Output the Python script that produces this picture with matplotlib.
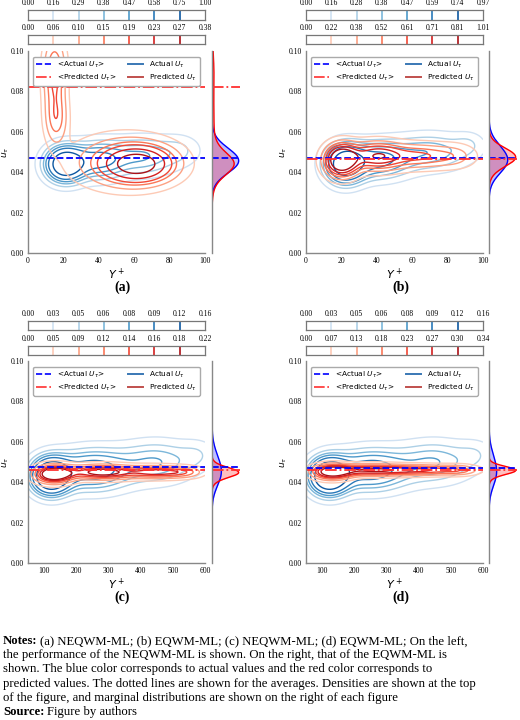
import numpy as np
import matplotlib
matplotlib.use("Agg")
import matplotlib.pyplot as plt
from matplotlib.lines import Line2D

W, H = 520, 720
fig = plt.figure(figsize=(5.2, 7.2), dpi=100)

def ax_px(x0, y0, x1, y1):
    return fig.add_axes([x0 / W, 1 - y1 / H, (x1 - x0) / W, (y1 - y0) / H])

# ---- data ----
panel_names = ["(a)", "(b)", "(c)", "(d)"]
blue_levels = [
    [0.00, 0.16, 0.29, 0.38, 0.47, 0.58, 0.75, 1.00],
    [0.00, 0.16, 0.28, 0.38, 0.47, 0.59, 0.74, 0.97],
    [0.00, 0.03, 0.05, 0.06, 0.08, 0.09, 0.12, 0.16],
    [0.00, 0.03, 0.05, 0.06, 0.08, 0.09, 0.12, 0.16],
]
red_levels = [
    [0.00, 0.06, 0.10, 0.15, 0.19, 0.23, 0.27, 0.38],
    [0.00, 0.22, 0.38, 0.52, 0.61, 0.71, 0.81, 1.01],
    [0.00, 0.05, 0.09, 0.12, 0.14, 0.16, 0.18, 0.22],
    [0.00, 0.07, 0.13, 0.18, 0.23, 0.27, 0.30, 0.34],
]
mass_fractions = [0.95, 0.85, 0.72, 0.58, 0.42, 0.22]
x_ranges = [(0, 100), (0, 100), (50, 600), (50, 600)]
x_ticks = [[0, 20, 40, 60, 80, 100], [0, 20, 40, 60, 80, 100],
           [100, 200, 300, 400, 500, 600], [100, 200, 300, 400, 500, 600]]
y_ticks = [0.00, 0.02, 0.04, 0.06, 0.08, 0.10]
mean_actual = [0.047, 0.047, 0.0475, 0.047]
mean_predicted = [0.082, 0.0465, 0.046, 0.046]

# density components: (center Y+, center u_tau, spread Y+, spread u_tau, weight)
actual_components = [
    [(21, 0.044, 7, 0.0055, 1.0), (40, 0.046, 10, 0.006, 0.45), (65, 0.048, 12, 0.006, 0.3), (86, 0.051, 8, 0.005, 0.12)],
    [(22, 0.044, 7, 0.006, 1.0), (40, 0.046, 12, 0.006, 0.5), (70, 0.050, 15, 0.006, 0.3), (92, 0.054, 6, 0.004, 0.1)],
    [(120, 0.043, 40, 0.006, 1.0), (250, 0.046, 80, 0.007, 0.5), (450, 0.050, 80, 0.007, 0.3), (580, 0.054, 40, 0.005, 0.1)],
    [(120, 0.043, 40, 0.006, 1.0), (250, 0.046, 80, 0.007, 0.5), (450, 0.050, 80, 0.007, 0.3), (580, 0.054, 40, 0.005, 0.1)],
]
predicted_components = [
    [(62, 0.044, 11, 0.005, 1.0), (55, 0.045, 18, 0.008, 0.3), (15, 0.088, 4, 0.012, 0.35), (16, 0.066, 4, 0.008, 0.25)],
    [(20, 0.046, 6, 0.005, 1.0), (40, 0.048, 10, 0.0045, 0.6), (65, 0.048, 12, 0.004, 0.35), (85, 0.048, 8, 0.004, 0.15)],
    [(130, 0.044, 40, 0.003, 1.0), (280, 0.045, 70, 0.0025, 0.8), (450, 0.045, 60, 0.0022, 0.6), (540, 0.045, 40, 0.002, 0.3)],
    [(130, 0.045, 40, 0.0025, 1.0), (250, 0.046, 80, 0.002, 0.8), (420, 0.046, 80, 0.0018, 0.6), (530, 0.046, 40, 0.0018, 0.3)],
]

# ---- layout (pixels) ----
col_x = [(28, 205, 212, 240), (306, 483, 489, 517)]
row_y = [dict(cb1=(10, 20), cb2=(35, 44), main=(51, 253), lab=287),
         dict(cb1=(321, 330), cb2=(346, 355), main=(361, 563), lab=597)]

serif = ["Liberation Serif", "DejaVu Serif"]

def density(comps, X, Y):
    Z = np.zeros_like(X)
    for mx, my, sx, sy, w in comps:
        Z += w * np.exp(-0.5 * (((X - mx) / sx) ** 2 + ((Y - my) / sy) ** 2))
    return Z

def iso_levels(Z, fracs):
    z = np.sort(Z.ravel())[::-1]
    c = np.cumsum(z) / z.sum()
    return sorted(z[np.searchsorted(c, f)] for f in fracs)

def colorbar_strip(ax, labels, cmap):
    ax.set_xlim(0, 7)
    ax.set_ylim(0, 1)
    cols = cmap(np.linspace(0.2, 0.85, 6))
    for i in range(1, 7):
        ax.axvline(i, color=cols[i - 1], lw=1.2)
    ax.set_yticks([])
    ax.set_xticks(range(8))
    ax.set_xticklabels([f"{v:.2f}" for v in labels], fontsize=5.5, family=serif)
    ax.xaxis.tick_top()
    ax.tick_params(axis="x", length=0, pad=2)
    for s in ax.spines.values():
        s.set_color("#777777")
        s.set_linewidth(0.9)

for p in range(4):
    r, c = divmod(p, 2)
    lx0, lx1, mx0, mx1 = col_x[c]
    ry = row_y[r]
    cb1 = ax_px(lx0, ry["cb1"][0], lx1, ry["cb1"][1])
    cb2 = ax_px(lx0, ry["cb2"][0], lx1, ry["cb2"][1])
    colorbar_strip(cb1, blue_levels[p], plt.cm.Blues)
    colorbar_strip(cb2, red_levels[p], plt.cm.Reds)

    ax = ax_px(lx0, ry["main"][0], lx1, ry["main"][1])
    mg = ax_px(mx0, ry["main"][0], mx1, ry["main"][1])
    x0, x1 = x_ranges[p]
    xs = np.linspace(x0, x1, 300)
    ys = np.linspace(0, 0.10, 300)
    X, Y = np.meshgrid(xs, ys)
    Za = density(actual_components[p], X, Y)
    Zp = density(predicted_components[p], X, Y)
    ax.contour(X, Y, Za, levels=iso_levels(Za, mass_fractions),
               colors=plt.cm.Blues(np.linspace(0.2, 0.85, 6)), linewidths=1.0)
    ax.contour(X, Y, Zp, levels=iso_levels(Zp, mass_fractions),
               colors=plt.cm.Reds(np.linspace(0.2, 0.85, 6)), linewidths=1.0)
    ax.axhline(mean_actual[p], color="blue", ls="--", lw=1.3)
    ax.axhline(mean_predicted[p], color="#ff3030", ls="-.", lw=1.3)
    ax.set_xlim(x0, x1)
    ax.set_ylim(0, 0.10)
    ax.set_xticks(x_ticks[p])
    ax.set_yticks(y_ticks)
    ax.set_xticklabels([str(v) for v in x_ticks[p]], fontsize=5.5, family=serif)
    ax.set_yticklabels([f"{v:.2f}" for v in y_ticks], fontsize=5.5, family=serif)
    ax.tick_params(length=0, pad=3)
    for s in ["top", "right"]:
        ax.spines[s].set_visible(False)
    for s in ["left", "bottom"]:
        ax.spines[s].set_color("#888888")
        ax.spines[s].set_linewidth(1.0)
    ax.set_xlabel(r"$Y^+$", fontsize=8, labelpad=1)
    ax.set_ylabel(r"$u_\tau$", fontsize=6.5, labelpad=0)
    handles = [Line2D([], [], color="blue", ls="--", lw=1.2),
               Line2D([], [], color="#ff3030", ls="-.", lw=1.2),
               Line2D([], [], color="#3a78b5", lw=1.4),
               Line2D([], [], color="#c0504d", lw=1.4)]
    labs = [r"<Actual $U_\tau$>", r"<Predicted $U_\tau$>", r"Actual $U_\tau$", r"Predicted $U_\tau$"]
    leg = ax.legend(handles, labs, ncol=2, loc="upper center", fontsize=5.3,
                    frameon=True, fancybox=True, framealpha=1, borderpad=0.4,
                    columnspacing=1.6, handlelength=2.0, handletextpad=0.8,
                    labelspacing=0.35, bbox_to_anchor=(0.5, 0.99))
    leg.get_frame().set_edgecolor("#aaaaaa")

    # marginal
    ma = Za.sum(axis=1)
    mp = Zp.sum(axis=1)
    ma = ma / np.trapezoid(ma, ys)
    mp = mp / np.trapezoid(mp, ys)
    mg.fill_betweenx(ys, 0, ma, color="blue", alpha=0.25, lw=0)
    mg.plot(ma, ys, color="blue", lw=1.0)
    mg.fill_betweenx(ys, 0, mp, color="red", alpha=0.25, lw=0)
    mg.plot(mp, ys, color="red", lw=1.0)
    mg.axhline(mean_actual[p], color="blue", ls="--", lw=1.3)
    mg.axhline(mean_predicted[p], color="#ff3030", ls="-.", lw=1.3)
    mg.set_ylim(0, 0.10)
    mg.set_xlim(0, max(ma.max(), mp.max()) * 1.05)
    mg.set_xticks([])
    mg.set_yticks([])
    for s in ["top", "right", "bottom"]:
        mg.spines[s].set_visible(False)
    mg.spines["left"].set_color("#888888")
    mg.spines["left"].set_linewidth(1.0)

    fig.text(((lx0 + lx1) / 2 + 6) / W, 1 - ry["lab"] / H, panel_names[p],
             ha="center", va="center", fontsize=10, fontweight="bold", family=serif)

# ---- notes ----
note_lines = [
    "(a) NEQWM-ML; (b) EQWM-ML; (c) NEQWM-ML; (d) EQWM-ML; On the left,",
    "the performance of the NEQWM-ML is shown. On the right, that of the EQWM-ML is",
    "shown. The blue color corresponds to actual values and the red color corresponds to",
    "predicted values. The dotted lines are shown for the averages. Densities are shown at the top",
    "of the figure, and marginal distributions are shown on the right of each figure",
]
fs = 9.2
y0 = 641
dy = 14.2
renderer = fig.canvas.get_renderer()
t = fig.text(3 / W, 1 - y0 / H, "Notes:", fontsize=fs, fontweight="bold", family=serif, va="center")
bb = t.get_window_extent(renderer)
fig.text((bb.x1 + 3) / W, 1 - y0 / H, note_lines[0], fontsize=fs, family=serif, va="center")
for i, line in enumerate(note_lines[1:], start=1):
    fig.text(3 / W, 1 - (y0 + i * dy) / H, line, fontsize=fs, family=serif, va="center")
ys_src = y0 + 5 * dy
t2 = fig.text(3 / W, 1 - ys_src / H, "Source:", fontsize=fs, fontweight="bold", family=serif, va="center")
bb2 = t2.get_window_extent(renderer)
fig.text((bb2.x1 + 3) / W, 1 - ys_src / H, "Figure by authors", fontsize=fs, family=serif, va="center")

fig.savefig("out.png", dpi=100, facecolor="white")
